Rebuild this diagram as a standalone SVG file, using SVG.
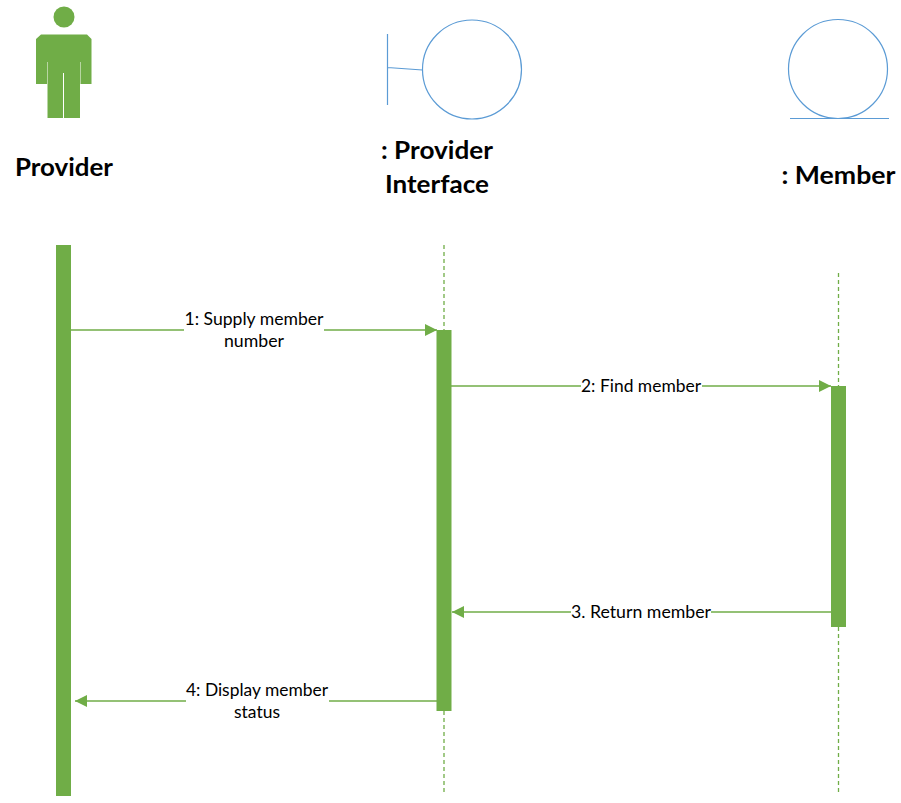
<svg xmlns="http://www.w3.org/2000/svg" width="901" height="803" viewBox="0 0 901 803">
<style>
.bg{fill:#fff}
.fill{fill:#70ad47}
.outline{fill:none;stroke:#5b9bd5;stroke-width:1.2}
.life{fill:none;stroke:#70ad47;stroke-width:1.3;stroke-dasharray:4 3}
.msg{fill:none;stroke:#70ad47;stroke-width:1.3;marker-end:url(#arrow)}
.title{font-family:Lato,"Liberation Sans",sans-serif;font-weight:700;font-size:25px;fill:#000;text-anchor:middle}
.label{font-family:Lato,"Liberation Sans",sans-serif;font-size:17px;fill:#000;text-anchor:middle}
.gap{fill:#fff}
</style>
<defs>
<marker id="arrow" viewBox="0 0 12 12" refX="12" refY="6" markerWidth="12" markerHeight="12" markerUnits="userSpaceOnUse" orient="auto"><path d="M0 0L12 6L0 12Z" fill="#70ad47"/></marker>
</defs>
<rect class="bg" width="901" height="803"/>
<g id="connectors">
<path class="life" d="M444 245V330M444 711V792"/>
<path class="life" d="M838.500 273V386M838.500 627V792"/>
<path class="msg" d="M71 330H437"/>
<path class="msg" d="M451 386H831"/>
<path class="msg" d="M831 612H452"/>
<path class="msg" d="M437 701H75"/>
</g>
<g id="provider">
<circle class="fill" cx="64" cy="17" r="10.500"/>
<path class="fill" d="M41 34.500H87L91.500 39V84H80.500V62H80V118H64V73H63V118H47.500V62H47V84H36V39Z"/>
<text class="title" x="64" y="175.500" textLength="98" lengthAdjust="spacingAndGlyphs">Provider</text>
<rect class="fill" x="56" y="245" width="15" height="551"/>
</g>
<g id="provider-interface">
<circle class="outline" cx="472" cy="69.500" r="49.500"/>
<path class="outline" d="M387.500 34V105M387.500 67.500L422.500 70"/>
<text class="title" x="437" y="158.500" textLength="112" lengthAdjust="spacingAndGlyphs">: Provider</text>
<text class="title" x="437" y="193" textLength="104" lengthAdjust="spacingAndGlyphs">Interface</text>
<rect class="fill" x="436.500" y="330" width="15" height="381"/>
</g>
<g id="member">
<circle class="outline" cx="838" cy="69" r="49.500"/>
<path class="outline" d="M790 118.500H889"/>
<text class="title" x="838.500" y="183.500" textLength="114" lengthAdjust="spacingAndGlyphs">: Member</text>
<rect class="fill" x="831" y="386" width="15" height="241"/>
</g>
<g id="message-1">
<rect class="gap" x="184" y="310" width="140" height="40"/>
<text class="label" x="254" y="325" textLength="139" lengthAdjust="spacingAndGlyphs">1: Supply member</text>
<text class="label" x="254" y="347" textLength="60" lengthAdjust="spacingAndGlyphs">number</text>
</g>
<g id="message-2">
<rect class="gap" x="581" y="376" width="121" height="20"/>
<text class="label" x="641" y="392" textLength="120" lengthAdjust="spacingAndGlyphs">2: Find member</text>
</g>
<g id="message-3">
<rect class="gap" x="571" y="602" width="140" height="20"/>
<text class="label" x="641" y="618" textLength="140" lengthAdjust="spacingAndGlyphs">3. Return member</text>
</g>
<g id="message-4">
<rect class="gap" x="186" y="681" width="143" height="40"/>
<text class="label" x="257" y="695.500" textLength="142" lengthAdjust="spacingAndGlyphs">4: Display member</text>
<text class="label" x="257" y="717.500" textLength="46" lengthAdjust="spacingAndGlyphs">status</text>
</g>
</svg>
